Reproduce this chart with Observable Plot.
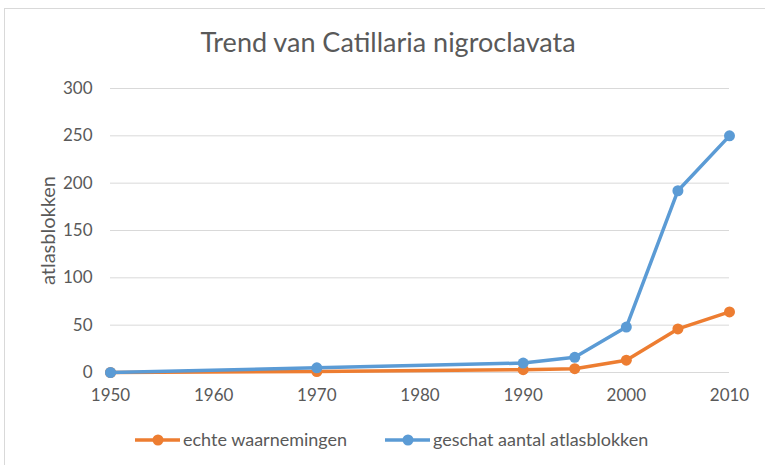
<!DOCTYPE html>
<html><head><meta charset="utf-8">
<script src="https://cdn.jsdelivr.net/npm/d3@7"></script>
<script src="https://cdn.jsdelivr.net/npm/@observablehq/plot@0.6"></script>
<style>
body{margin:0;background:#fff;font-family:Lato,"Open Sans",sans-serif;}
#wrap{position:relative;width:765px;height:465px;overflow:hidden;background:#fff;}
#frame{position:absolute;left:4px;top:8px;width:820px;height:520px;border-left:1px solid #d9d9d9;border-top:1px solid #d9d9d9;}
#title{position:absolute;left:0;width:776px;top:28px;text-align:center;font-size:27px;line-height:27px;color:#595959;white-space:nowrap;}
#chart{position:absolute;left:0;top:0;}
.item{position:absolute;top:430px;display:flex;align-items:flex-start;font-size:18px;line-height:18px;color:#595959;white-space:nowrap;}
.item svg{margin-right:2px;display:block;}
</style></head>
<body>
<div id="wrap">
  <div id="frame"></div>
  <div id="chart"></div>
  <div id="title">Trend van Catillaria nigroclavata</div>
</div>
<script>
const years = [1950, 1970, 1990, 1995, 2000, 2005, 2010];
const echte = [0, 1, 3, 4, 13, 46, 64];
const geschat = [0, 5, 10, 16, 48, 192, 250];
const seriesNames = ["echte waarnemingen", "geschat aantal atlasblokken"];
const seriesColors = ["#ED7D31", "#5B9BD5"];
const xTicks = [1950, 1960, 1970, 1980, 1990, 2000, 2010];
const yTicks = [0, 50, 100, 150, 200, 250, 300];
const yTitle = "atlasblokken";

const dataE = years.map((y, i) => ({year: y, value: echte[i]}));
const dataG = years.map((y, i) => ({year: y, value: geschat[i]}));

const plot = Plot.plot({
  width: 765,
  height: 410,
  marginLeft: 110,
  marginRight: 36,
  marginTop: 88,
  marginBottom: 38,
  style: {fontFamily: "Lato, sans-serif", fontSize: "17px", color: "#595959", background: "transparent", overflow: "visible"},
  x: {domain: [1950, 2010], ticks: xTicks, tickFormat: d => String(d)},
  y: {domain: [0, 300], ticks: yTicks},
  marks: [
    Plot.gridY(yTicks, {stroke: "#d9d9d9", strokeOpacity: 1, strokeWidth: 1}),
    Plot.axisX({ticks: xTicks, tickSize: 0, tickPadding: 16, tickFormat: d => String(d), label: null, fill: "#595959"}),
    Plot.axisY({ticks: yTicks, tickSize: 0, tickPadding: 18, label: yTitle, labelAnchor: "center", labelArrow: "none", labelOffset: 70, fill: "#595959"}),
    Plot.line(dataE, {x: "year", y: "value", stroke: seriesColors[0], strokeWidth: 3.5}),
    Plot.dot(dataE, {x: "year", y: "value", fill: seriesColors[0], r: 5.5}),
    Plot.line(dataG, {x: "year", y: "value", stroke: seriesColors[1], strokeWidth: 3.5}),
    Plot.dot(dataG, {x: "year", y: "value", fill: seriesColors[1], r: 5.5})
  ]
});
document.getElementById("chart").appendChild(plot);
d3.select(plot).selectAll('[aria-label="y-axis label"]').style("font-size", "20px");

const legendLefts = [135, 385];
seriesNames.forEach((name, i) => {
  const item = d3.select("#wrap").append("div").attr("class", "item").style("left", legendLefts[i] + "px");
  const s = item.append("svg").attr("width", 46).attr("height", 18);
  s.append("line").attr("x1", 0).attr("x2", 45).attr("y1", 10).attr("y2", 10)
    .attr("stroke", seriesColors[i]).attr("stroke-width", 3.5);
  s.append("circle").attr("cx", 23).attr("cy", 10).attr("r", 5.5).attr("fill", seriesColors[i]);
  item.append("span").text(name);
});
</script>
</body></html>
